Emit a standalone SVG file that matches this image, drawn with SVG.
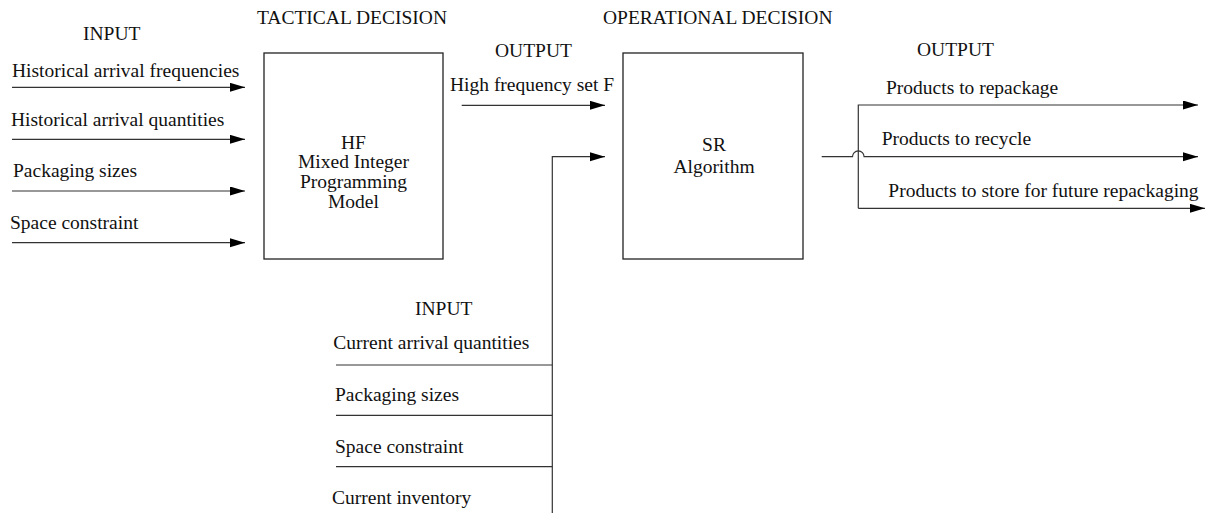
<svg xmlns="http://www.w3.org/2000/svg" width="1210" height="514" viewBox="0 0 1210 514">
<style>
text{font-family:"Liberation Serif","Times New Roman",serif;font-size:19.5px;fill:#111}
.c{text-anchor:middle}
.box{fill:#fff;stroke:#222;stroke-width:1.3}
.ln{fill:none;stroke:#333;stroke-width:1.2}
.ar{marker-end:url(#ah)}
</style>
<defs>
<marker id="ah" markerUnits="userSpaceOnUse" markerWidth="16" markerHeight="10" refX="15" refY="4.5" orient="auto">
<path d="M0,0 L15,4.5 L0,9 z" fill="#000"/>
</marker>
</defs>
<rect width="1210" height="514" fill="#fff"/>
<g id="headers">
<text x="83" y="40">INPUT</text>
<text x="257" y="24">TACTICAL DECISION</text>
<text x="495" y="57">OUTPUT</text>
<text x="603" y="24">OPERATIONAL DECISION</text>
<text x="917" y="56">OUTPUT</text>
<text x="415" y="315">INPUT</text>
</g>
<g id="hf">
<rect class="box" x="264" y="53" width="179" height="206"/>
<text class="c" x="353.5" y="149">HF</text>
<text class="c" x="353.5" y="168">Mixed Integer</text>
<text class="c" x="353.5" y="188">Programming</text>
<text class="c" x="353.5" y="208">Model</text>
</g>
<g id="sr">
<rect class="box" x="623" y="53" width="180" height="206"/>
<text class="c" x="714" y="151">SR</text>
<text class="c" x="714" y="173">Algorithm</text>
</g>
<g id="connectors">
<path class="ln ar" d="M12,87.3 H245"/>
<path class="ln ar" d="M12,139.3 H245"/>
<path class="ln ar" d="M12,191 H245"/>
<path class="ln ar" d="M12,242.7 H245"/>
<path class="ln ar" d="M461.7,105.3 H605"/>
<path class="ln ar" d="M552.3,513 V156.7 H605"/>
<path class="ln" d="M336,365 H552.3"/>
<path class="ln" d="M336,415.3 H552.3"/>
<path class="ln" d="M336,466.7 H552.3"/>
<path class="ln ar" d="M821.7,156.7 H852.5 A5.8,5.8 0 0 1 864.1,156.7 H1198"/>
<path class="ln ar" d="M858.3,208.3 V105 H1198"/>
<path class="ln ar" d="M858.3,208.3 H1205"/>
</g>
<g id="labels">
<text x="12" y="77">Historical arrival frequencies</text>
<text x="11" y="126">Historical arrival quantities</text>
<text x="13" y="177">Packaging sizes</text>
<text x="10" y="229">Space constraint</text>
<text x="450" y="91">High frequency set F</text>
<text x="886" y="94">Products to repackage</text>
<text x="881.7" y="145">Products to recycle</text>
<text x="888.3" y="197">Products to store for future repackaging</text>
<text x="333.3" y="349">Current arrival quantities</text>
<text x="335" y="401">Packaging sizes</text>
<text x="335" y="453">Space constraint</text>
<text x="332" y="504">Current inventory</text>
</g>
</svg>
